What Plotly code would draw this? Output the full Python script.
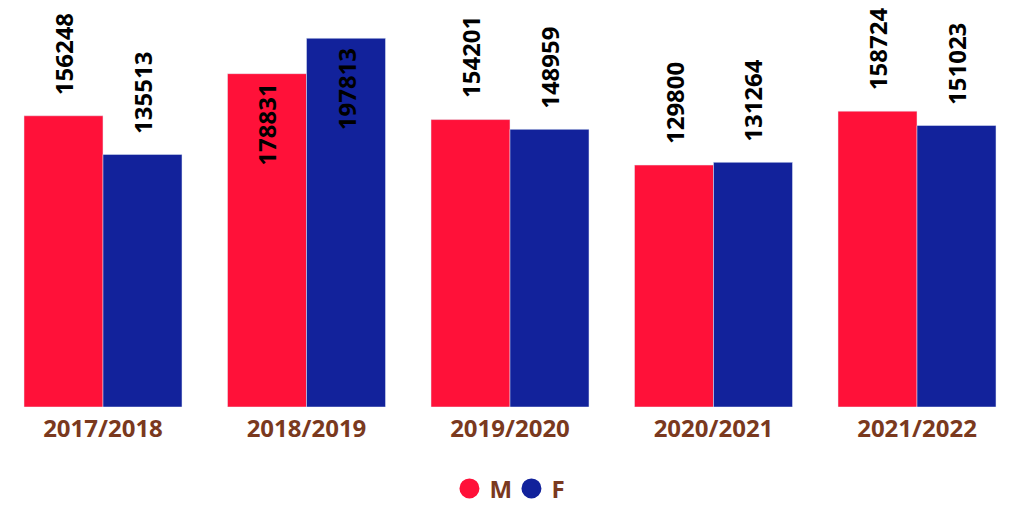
import plotly.graph_objects as go

categories = ["2017/2018", "2018/2019", "2019/2020", "2020/2021", "2021/2022"]
male = [156248, 178831, 154201, 129800, 158724]
female = [135513, 197813, 148959, 131264, 151023]
inside_label = [False, True, False, False, False]

RED = "#FF1139"
BLUE = "#12229B"
BROWN = "#7A391E"
FONT = "Open Sans"

fig = go.Figure()
fig.add_trace(go.Bar(x=categories, y=male, name="M", marker_color=RED, showlegend=False))
fig.add_trace(go.Bar(x=categories, y=female, name="F", marker_color=BLUE, showlegend=False))
# legend entries with circle symbols
fig.add_trace(go.Scatter(x=[None], y=[None], mode="markers", name="M",
                         marker=dict(color=RED, size=16, symbol="circle",
                                     line=dict(color=RED, width=4))))
fig.add_trace(go.Scatter(x=[None], y=[None], mode="markers", name="F",
                         marker=dict(color=BLUE, size=16, symbol="circle",
                                     line=dict(color=BLUE, width=4))))

bargap = 0.2236
off = (1 - bargap) / 4
for series, shift in ((male, -off), (female, off)):
    for i, v in enumerate(series):
        inside = inside_label[i]
        fig.add_annotation(
            x=i + shift, y=v, xref="x", yref="y",
            text=str(v), textangle=-90, showarrow=False,
            yanchor="top" if inside else "bottom",
            yshift=-8 if inside else 19,
            font=dict(family=FONT, size=24, color="black", weight="bold"),
        )

fig.update_layout(
    width=993, height=491,
    margin=dict(l=0, r=0, t=0, b=92, autoexpand=False),
    paper_bgcolor="white", plot_bgcolor="white",
    barmode="group", bargap=bargap, bargroupgap=0,
    showlegend=True,
    legend=dict(orientation="h", x=0.507, xanchor="center", y=-0.205, yanchor="middle",
                entrywidth=17,
                font=dict(family=FONT, size=24, color=BROWN, weight="bold"),
                itemsizing="trace"),
    xaxis=dict(type="category", range=[-0.4668, 4.4128], showgrid=False, showline=False,
               ticks="", ticklabelstandoff=5,
               tickfont=dict(family=FONT, size=24, color=BROWN, weight="bold")),
    yaxis=dict(range=[0, 214060], visible=False, showgrid=False),
)

fig.write_html("out.html")
